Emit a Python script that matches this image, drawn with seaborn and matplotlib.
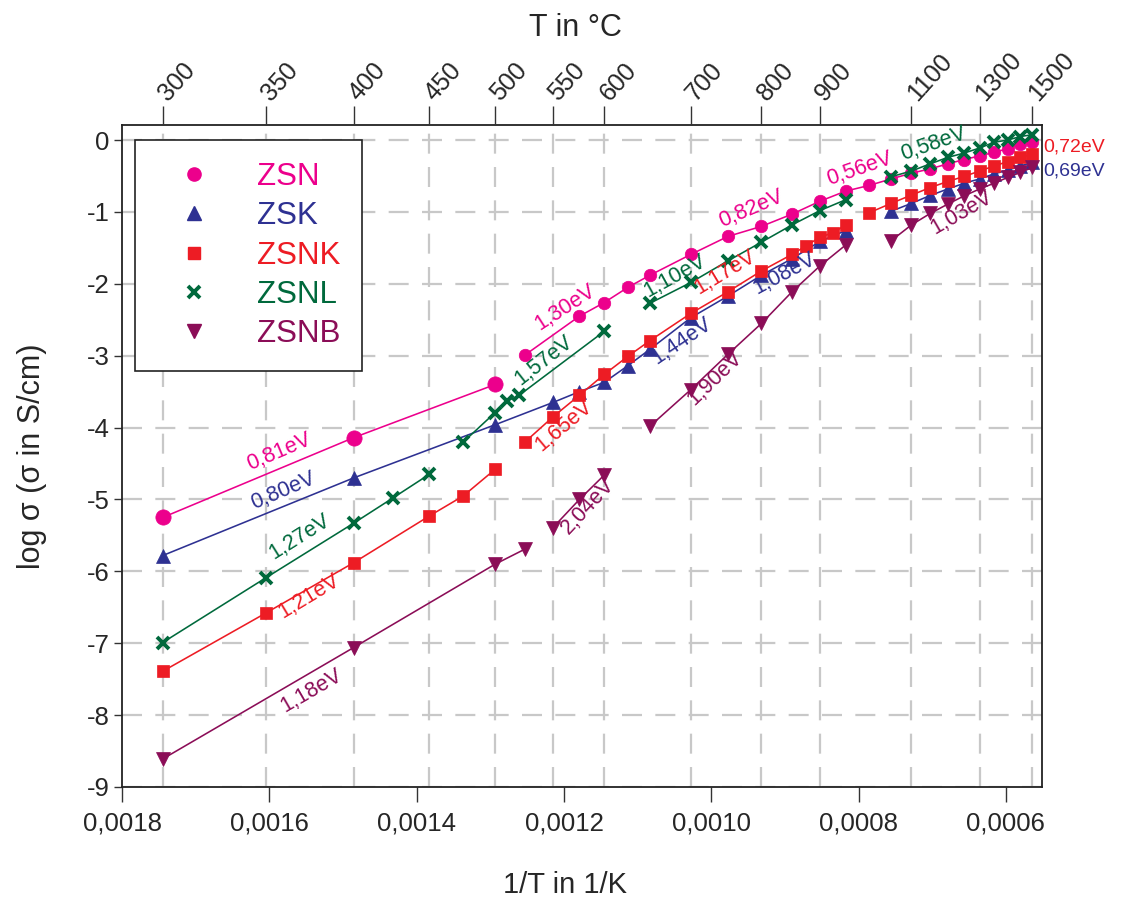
import matplotlib
matplotlib.use("Agg")
import matplotlib.pyplot as plt
from matplotlib.lines import Line2D
import pandas as pd
import seaborn as sns

# Measured conductivity: temperature in °C, log10(sigma / S cm^-1), fit segment id
zsn_temp = [300, 400, 500, 525, 575, 600, 625, 650, 700, 750, 800, 850, 900, 950,
            1000, 1050, 1100, 1150, 1200, 1250, 1300, 1350, 1400, 1450, 1500]
zsn_logsig = [-5.25, -4.14, -3.40, -2.99, -2.45, -2.26, -2.05, -1.88, -1.59, -1.34,
              -1.20, -1.03, -0.85, -0.71, -0.63, -0.54, -0.46, -0.40, -0.33, -0.27,
              -0.22, -0.17, -0.12, -0.06, -0.02]
zsn_seg = [0, 0, 0] + [1] * 22

zsk_temp = [300, 400, 500, 550, 575, 600, 625, 650, 700, 750, 800, 850, 900, 950,
            1050, 1100, 1150, 1200, 1250, 1300, 1350, 1400, 1450, 1500]
zsk_logsig = [-5.78, -4.70, -3.96, -3.65, -3.50, -3.37, -3.14, -2.91, -2.47, -2.17,
              -1.88, -1.65, -1.41, -1.26,
              -0.99, -0.88, -0.77, -0.68, -0.60, -0.54, -0.47, -0.42, -0.36, -0.31]
zsk_seg = [0] * 14 + [1] * 10

zsnk_temp = [300, 350, 400, 450, 475, 500,
             525, 550, 575, 600, 625, 650, 700, 750, 800, 850, 875, 900, 925, 950,
             1000, 1050, 1100, 1150, 1200, 1250, 1300, 1350, 1400, 1450, 1500]
zsnk_logsig = [-7.39, -6.58, -5.88, -5.23, -4.95, -4.58,
               -4.20, -3.85, -3.55, -3.26, -3.01, -2.79, -2.41, -2.11, -1.82, -1.59,
               -1.47, -1.35, -1.29, -1.18,
               -1.01, -0.88, -0.765, -0.66, -0.575, -0.505, -0.43, -0.36, -0.30,
               -0.24, -0.20]
zsnk_seg = [0] * 6 + [1] * 14 + [2] * 11

zsnl_temp = [300, 350, 400, 425, 450,
             475, 500, 510, 520, 600,
             650, 700, 750, 800, 850, 900, 950,
             1050, 1100, 1150, 1200, 1250, 1300, 1350, 1400, 1450, 1500]
zsnl_logsig = [-6.99, -6.09, -5.33, -4.98, -4.65,
               -4.20, -3.79, -3.63, -3.55, -2.66,
               -2.27, -1.98, -1.68, -1.42, -1.18, -0.98, -0.83,
               -0.51, -0.43, -0.33, -0.24, -0.18, -0.11, -0.03, 0.00, 0.05, 0.075]
zsnl_seg = [0] * 5 + [1] * 5 + [2] * 7 + [3] * 10

zsnb_temp = [300, 400, 500, 525,
             550, 575, 600,
             650, 700, 750, 800, 850, 900, 950,
             1050, 1100, 1150, 1200, 1250, 1300, 1350, 1400, 1450, 1500]
zsnb_logsig = [-8.61, -7.06, -5.90, -5.69,
               -5.39, -5.00, -4.66,
               -3.98, -3.47, -2.98, -2.55, -2.11, -1.75, -1.46,
               -1.40, -1.18, -1.02, -0.89, -0.775, -0.68, -0.60, -0.52, -0.45, -0.38]
zsnb_seg = [0] * 4 + [1] * 3 + [2] * 7 + [3] * 10

samples = ["ZSN", "ZSK", "ZSNK", "ZSNL", "ZSNB"]
sample_colors = ["#EC008C", "#2E3192", "#ED1C24", "#00693C", "#8B0D57"]

top_temps = [300, 350, 400, 450, 500, 550, 600, 700, 800, 900, 1100, 1300, 1500]
bottom_ticks = [0.0018, 0.0016, 0.0014, 0.0012, 0.0010, 0.0008, 0.0006]
bottom_labels = ["0,0018", "0,0016", "0,0014", "0,0012", "0,0010", "0,0008", "0,0006"]
y_ticks = [0, -1, -2, -3, -4, -5, -6, -7, -8, -9]

# Activation energies written along the fitted segments
ea_text = ["0,81eV", "0,80eV", "1,27eV", "1,21eV", "1,18eV", "1,30eV", "1,57eV",
           "1,65eV", "1,10eV", "1,17eV", "1,44eV", "1,08eV", "1,90eV", "2,04eV",
           "0,82eV", "0,56eV", "0,58eV", "1,03eV", "0,72eV", "0,69eV"]
ea_sample = ["ZSN", "ZSK", "ZSNL", "ZSNK", "ZSNB", "ZSN", "ZSNL",
             "ZSNK", "ZSNL", "ZSNK", "ZSK", "ZSK", "ZSNB", "ZSNB",
             "ZSN", "ZSN", "ZSNL", "ZSNB", "ZSNK", "ZSK"]

# label placement (x in 1/K, y in log sigma, rotation in degrees)
ea_x = [0.001587, 0.0015817, 0.0015587, 0.0015465, 0.0015424, 0.0011976, 0.0012275,
        0.0012003, 0.0010497, 0.0009818, 0.0010402, 0.0009004, 0.0009954, 0.0011678,
        0.0009452, 0.0007986, 0.0006981, 0.0006601, 0.0005488, 0.0005488]
ea_y = [-4.34, -4.88, -5.52, -6.34, -7.66, -2.33, -3.07,
        -3.98, -1.89, -1.84, -2.79, -1.86, -3.31, -5.10,
        -0.96, -0.40, -0.055, -1.01, -0.10, -0.43]
ea_rot = [23, 23, 32, 31, 30, 33, 38, 40, 29, 31, 34, 28, 44, 47, 23, 19, 19, 30, 0, 0]

series = {
    "ZSN": (zsn_temp, zsn_logsig, zsn_seg),
    "ZSK": (zsk_temp, zsk_logsig, zsk_seg),
    "ZSNK": (zsnk_temp, zsnk_logsig, zsnk_seg),
    "ZSNL": (zsnl_temp, zsnl_logsig, zsnl_seg),
    "ZSNB": (zsnb_temp, zsnb_logsig, zsnb_seg),
}
frames = []
for name, (temp, logsig, seg) in series.items():
    frames.append(pd.DataFrame({"sample": name, "temp": temp, "logsig": logsig, "seg": seg}))
df = pd.concat(frames, ignore_index=True)
df["invT"] = 1.0 / (df["temp"] + 273.15)

sns.set_style("ticks")
plt.rcParams["font.family"] = ["Liberation Sans", "DejaVu Sans"]

fig = plt.figure(figsize=(11.25, 9.09), dpi=100)
ax = fig.add_axes([122 / 1125, 1 - 787 / 909, 920 / 1125, 662 / 909])

color_of = dict(zip(samples, sample_colors))
marker_style = {
    "ZSN": dict(marker="o", markersize=9.0),
    "ZSK": dict(marker="^", markersize=9.5),
    "ZSNK": dict(marker="s", markersize=8.5),
    "ZSNL": dict(marker="x", markersize=8.0, markeredgewidth=2.8),
    "ZSNB": dict(marker="v", markersize=9.5),
}

for name in samples:
    c = color_of[name]
    sub = df[df["sample"] == name]
    for seg, d in sub.groupby("seg"):
        style = dict(marker_style[name])
        style.setdefault("markeredgewidth", 0.5)
        if name == "ZSN" and seg == 0:
            style["markersize"] = 11
        sns.lineplot(data=d, x="invT", y="logsig", color=c, linewidth=1.15,
                     estimator=None, sort=False, legend=False, ax=ax,
                     markeredgecolor=c, markerfacecolor=c, zorder=3, **style)

for txt, s, x, y, r in zip(ea_text, ea_sample, ea_x, ea_y, ea_rot):
    if r == 0:
        # values for the high-temperature end, written outside the frame
        ax.text(x, y, txt, color=color_of[s], fontsize=14, ha="left", va="center",
                clip_on=False)
    else:
        ax.text(x, y, txt, color=color_of[s], fontsize=15.5, ha="center", va="center",
                rotation=r, rotation_mode="anchor")

ax.set_xlim(0.0018, 0.000551)
ax.set_ylim(-9, 0.21)
ax.set_xticks(bottom_ticks)
ax.set_xticklabels(bottom_labels)
ax.set_yticks(y_ticks)
ax.set_yticklabels([str(v) for v in y_ticks])

top_pos = [1.0 / (t + 273.15) for t in top_temps]
ax.set_xticks(top_pos, minor=True)
ax.grid(False)
grid_kw = dict(color="#C8C8C8", linewidth=1.6, linestyle=(0, (9, 6)))
ax.xaxis.grid(True, which="minor", **grid_kw)
ax.yaxis.grid(True, which="major", **grid_kw)
ax.set_axisbelow(True)

ax.tick_params(axis="x", which="major", direction="out", length=11, width=1.0,
               color="#333333", labelsize=18.5, pad=7)
ax.tick_params(axis="x", which="minor", length=0)
ax.tick_params(axis="y", direction="out", length=6, width=1.0, color="#333333",
               labelsize=18.5, pad=3)
for sp in ax.spines.values():
    sp.set_visible(True)
    sp.set_linewidth(1.3)
    sp.set_color("#222222")

ax.set_xlabel("1/T in 1/K", fontsize=21)
ax.xaxis.set_label_coords(0.4815, -0.148)
ax.xaxis.label.set_va("center")
ax.set_ylabel("log σ (σ in S/cm)", fontsize=22)
ax.yaxis.set_label_coords(-0.098, 0.50)
ax.yaxis.label.set_va("center")

ax2 = ax.twiny()
ax2.set_xlim(ax.get_xlim())
ax2.set_xticks(top_pos)
ax2.set_xticklabels([str(t) for t in top_temps])
ax2.tick_params(axis="x", direction="out", length=14, width=1.0, color="#333333",
                labelsize=18, pad=6)
for lab in ax2.get_xticklabels():
    lab.set_rotation(48)
    lab.set_ha("left")
    lab.set_va("center")
    lab.set_rotation_mode("anchor")
ax2.set_xlabel("T in °C", fontsize=22)
ax2.xaxis.set_label_coords(0.4924, 1.1465)
ax2.xaxis.label.set_va("center")
ax2.grid(False)
for sp in ax2.spines.values():
    sp.set_visible(False)

handles = []
for name in samples:
    st = dict(marker_style[name])
    st["markersize"] = st["markersize"] + 0.5
    handles.append(Line2D([], [], linestyle="none", color=color_of[name],
                          markeredgecolor=color_of[name], **st))
leg = ax.legend(handles, samples, loc="upper left", bbox_to_anchor=(0.0141, 0.9773),
                fontsize=22.5, frameon=True, fancybox=False, edgecolor="#222222",
                framealpha=1, borderpad=0.7, labelspacing=0.3, handlelength=2.4,
                handletextpad=0.8, borderaxespad=0)
leg.get_frame().set_linewidth(1.2)
for t, c in zip(leg.get_texts(), sample_colors):
    t.set_color(c)

fig.savefig("out.png", dpi=100)
